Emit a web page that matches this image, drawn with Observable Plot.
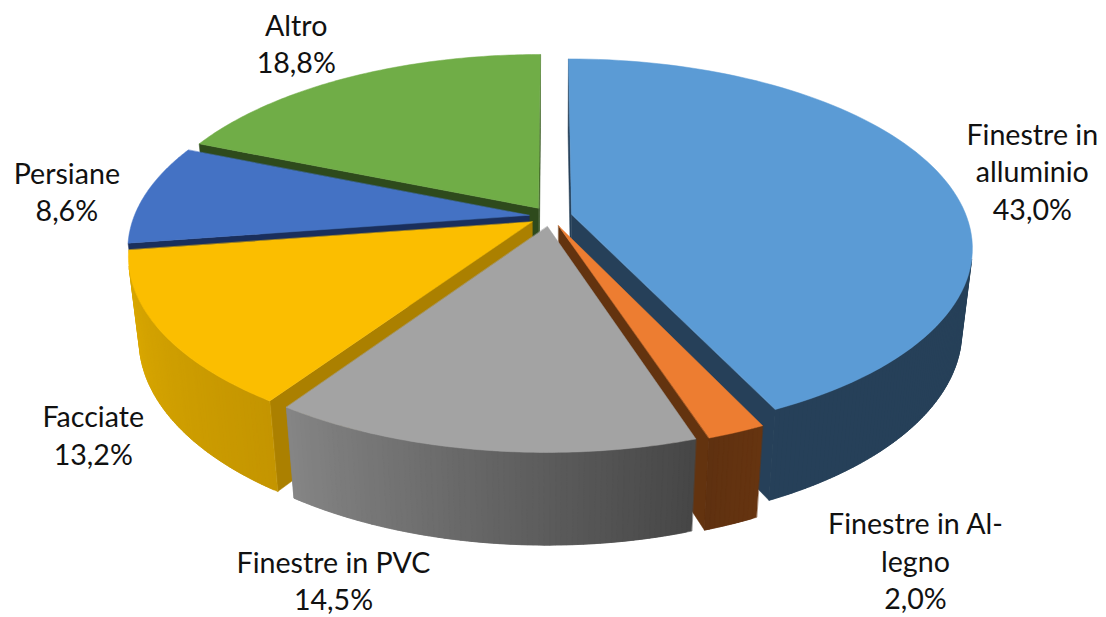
<!DOCTYPE html>
<html>
<head>
<meta charset="utf-8">
<style>html,body{margin:0;padding:0;background:#fff}svg{display:block}</style>
<script src="https://cdn.jsdelivr.net/npm/d3@7"></script>
<script src="https://cdn.jsdelivr.net/npm/@observablehq/plot@0.6"></script>
</head>
<body>
<script>
// Data
const names = ["Finestre in\nalluminio", "Finestre in Al-\nlegno", "Finestre in PVC", "Facciate", "Persiane", "Altro"];
const values = [43.0, 2.0, 14.5, 13.2, 8.6, 18.8];

// Styles
const topColors = ["#5b9bd5", "#ed7d31", "#a3a3a3", "#fbbe00", "#4472c4", "#70ad47"];
const faceColors = ["#264059", "#63330f", "#4d4d4d", "#ab8000", "#1a2f5c", "#2e4a1c"];
const wallStart = ["#264059", "#663410", "#464646", "#c49500", "#1f3864", "#2e4a1c"];
const wallEnd = ["#264059", "#5f3110", "#858585", "#dcaa00", "#1f3864", "#2e4a1c"];
const labelDx = [91, 179, -147, -67, -79, -53];
const labelDy = [-5.5, 127.5, 129.5, 103.5, -3, -34.5];

// Projection of the exploded pie, in chart pixels
const W = 1106, H = 617;
const cx = 550, cy = 216, R = 395, A = 183, depth = 84, p = 0.173, q = 0.025, explode = 0.0547;
const project = (u, v, z) => {
  const w = 1 + p * v + q * z;
  return [cx + R * u / w, cy + (-A * v + depth * z) / w];
};

const total = d3.sum(values);
let acc = 0;
const slices = values.map((val, i) => {
  const a0 = acc / total * 2 * Math.PI;
  acc += val;
  const a1 = acc / total * 2 * Math.PI;
  const mid = (a0 + a1) / 2;
  return {i, a0, a1, mid, ou: explode * Math.sin(mid), ov: explode * Math.cos(mid)};
});
const rim = (s, a, z) => project(s.ou + Math.sin(a), s.ov + Math.cos(a), z);
const apex = (s, z) => project(s.ou, s.ov, z);

const polys = [];
let pid = 0;
const addPoly = (pts, color) => {
  const id = pid++;
  for (const [x, y] of pts) polys.push({id, x, y, color});
};

// Painter's order: back to front
const order = d3.range(slices.length).sort((a, b) => slices[b].ov - slices[a].ov);
for (const k of order) {
  const s = slices[k];
  // radial cut faces, only when they face the viewer
  const f0 = [apex(s, 0), rim(s, s.a0, 0), rim(s, s.a0, 1), apex(s, 1)];
  const f1 = [apex(s, 0), rim(s, s.a1, 0), rim(s, s.a1, 1), apex(s, 1)];
  if (d3.polygonArea(f0) > 0) addPoly(f0, faceColors[k]);
  if (d3.polygonArea(f1) < 0) addPoly(f1, faceColors[k]);
  // outer wall as overlapping strips carrying the shading; back-facing strips are skipped
  const n = Math.max(4, Math.ceil((s.a1 - s.a0) / 0.012));
  const step = (s.a1 - s.a0) / n;
  const shade = d3.interpolateRgb(wallStart[k], wallEnd[k]);
  for (let j = 0; j < n; j++) {
    const b0 = s.a0 + step * j;
    const b1 = j === n - 1 ? s.a1 : b0 + step * 2;
    const strip = [rim(s, b0, 0), rim(s, (b0 + b1) / 2, 0), rim(s, b1, 0), rim(s, b1, 1), rim(s, (b0 + b1) / 2, 1), rim(s, b0, 1)];
    if (d3.polygonArea(strip) > 0) addPoly(strip, d3.color(shade((j + .5) / n)).formatHex());
  }
  // top face
  const topPts = [apex(s, 0)];
  const m = 90;
  for (let j = 0; j <= m; j++) topPts.push(rim(s, s.a0 + (s.a1 - s.a0) * j / m, 0));
  addPoly(topPts, topColors[k]);
}

const pct = d3.format(".1f");
const labels = slices.map((s) => {
  const [x, y] = project(s.ou + Math.sin(s.mid), s.ov + Math.cos(s.mid), 0);
  return {
    x: x + labelDx[s.i],
    y: y + labelDy[s.i],
    text: names[s.i] + "\n" + pct(values[s.i]).replace(".", ",") + "%"
  };
});

const chart = Plot.plot({
  width: W,
  height: H,
  margin: 0,
  style: {background: "#fff"},
  x: {domain: [0, W], range: [0, W], axis: null},
  y: {domain: [0, H], range: [0, H], axis: null},
  color: {type: "identity"},
  marks: [
    Plot.line(polys, {x: "x", y: "y", z: "id", fill: "color", stroke: "color", strokeWidth: 0.5, curve: "linear-closed"}),
    Plot.text(labels, {x: "x", y: "y", text: "text", fontSize: 28.6, lineHeight: 1.31, fontFamily: "Lato", fill: "#111"})
  ]
});
document.body.appendChild(chart);
</script>
</body>
</html>
